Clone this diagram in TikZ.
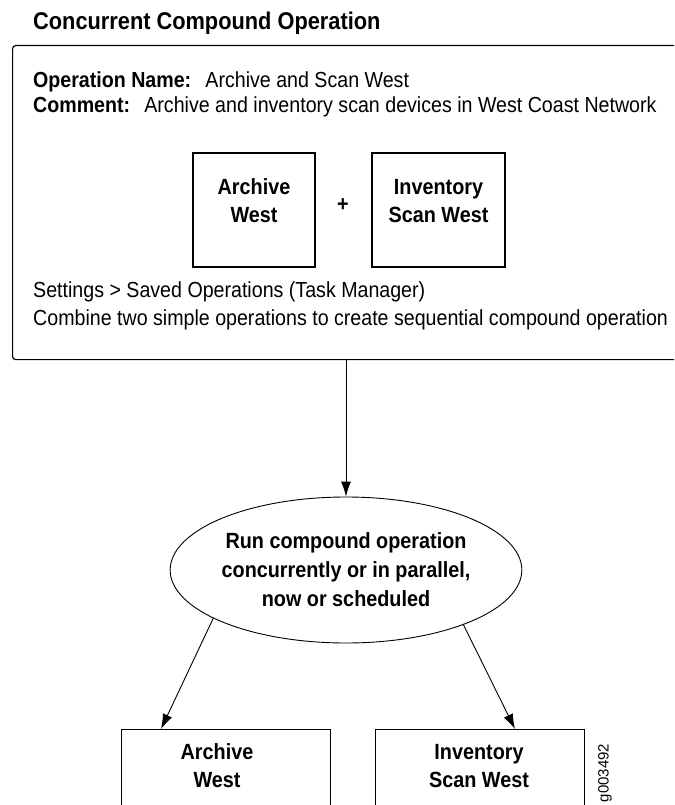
\documentclass[tikz,border=0pt]{standalone}
\usepackage{fontspec}
\setmainfont{Liberation Sans}[FakeStretch=0.9]
\newfontfamily\idfont{Liberation Sans}
\usetikzlibrary{arrows.meta,shapes.geometric}
\begin{document}
\begin{tikzpicture}[x=1pt,y=-1pt,
  bodytxt/.style={inner sep=0pt, font=\fontsize{21.8}{26}\selectfont, anchor=base west},
  titletxt/.style={inner sep=0pt, font=\bfseries\fontsize{24.2}{28}\selectfont, anchor=base west},
  opbox/.style={draw, line width=1.2pt, inner sep=0pt},
  boxlabel/.style={align=center, inner sep=0pt, font=\bfseries\fontsize{22}{28}\selectfont},
  flow/.style={draw, line width=0.9pt, -{Latex[length=15pt,width=10pt]}},
]
\useasboundingbox (0,0) rectangle (674,805);
\fill[white] (0,0) rectangle (674,805);
\clip (0,0) rectangle (674,805);

\node[titletxt] (title) at (33,30) {Concurrent Compound Operation};

\node[opbox, rounded corners=3pt, minimum width=700pt, minimum height=314pt, anchor=north west] (panel) at (12,45) {};

\node[bodytxt] (opname) at (33,88) {\textbf{Operation Name:}\hspace{0.65em}Archive and Scan West};
\node[bodytxt] (comment) at (33,113) {\textbf{Comment:}\hspace{0.65em}Archive and inventory scan devices in West Coast Network};

\node[opbox, minimum width=122pt, minimum height=114pt] (arch) at (254,210) {};
\node[boxlabel] (archt) at (254,201) {Archive\\West};
\node[boxlabel] (plus) at (343,205) {+};
\node[opbox, minimum width=133pt, minimum height=114pt] (inv) at (438.5,210) {};
\node[boxlabel] (invt) at (438.5,201) {Inventory\\Scan West};

\node[bodytxt] (settings) at (33,297) {Settings > Saved Operations (Task Manager)};
\node[bodytxt] (combine) at (33,325) {Combine two simple operations to create sequential compound operation};

\node[draw, ellipse, line width=0.9pt, minimum width=340pt, minimum height=146pt, inner sep=0pt,
      align=center, font=\bfseries\fontsize{22}{29}\selectfont] (run) at (346,570)
      {Run compound operation\\concurrently or in parallel,\\now or scheduled};

\node[opbox, minimum width=209pt, minimum height=110pt, anchor=north west] (bl) at (121,729) {};
\node[boxlabel] (blt) at (217,766) {Archive\\West};
\node[opbox, minimum width=209pt, minimum height=110pt, anchor=north west] (br) at (375,729) {};
\node[boxlabel] (brt) at (479,766) {Inventory\\Scan West};

\draw[flow] (run.north |- panel.south) -- (run.north);
\draw[flow] (run.200) -- ([xshift=40pt]bl.north west);
\draw[flow] (run.335) -- ([xshift=140pt]br.north west);

\node[rotate=90, inner sep=0pt, font=\idfont\fontsize{15}{18}\selectfont] (figid) at (605,773) {g003492};
\end{tikzpicture}
\end{document}
